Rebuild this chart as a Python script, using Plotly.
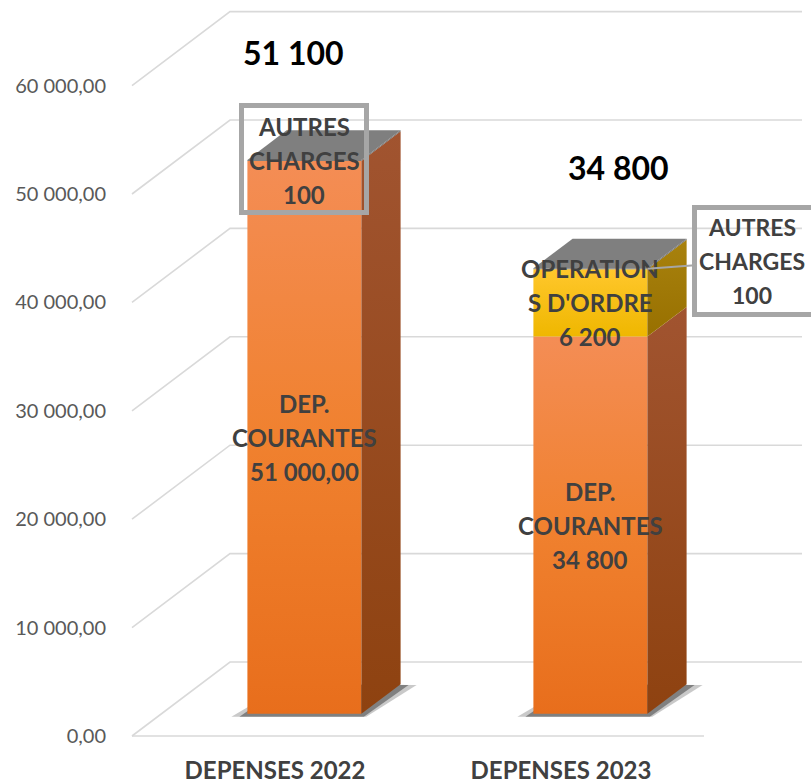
import plotly.graph_objects as go

# ---------------- data ----------------
categories = ["DEPENSES 2022", "DEPENSES 2023"]
dep_courantes = [51000, 34800]
operations_ordre = [0, 6200]
autres_charges = [100, 100]
total_labels = ["51 100", "34 800"]
y_tick_values = [0, 10000, 20000, 30000, 40000, 50000, 60000]
y_tick_labels = ["0,00", "10 000,00", "20 000,00", "30 000,00",
                 "40 000,00", "50 000,00", "60 000,00"]
label_courantes = [["DEP.", "COURANTES", "51 000,00"], ["DEP.", "COURANTES", "34 800"]]
label_ordre = [None, ["OPERATION", "S D'ORDRE", "6 200"]]
label_autres = [["AUTRES", "CHARGES", "100"], ["AUTRES", "CHARGES", "100"]]

# ---------------- geometry / style ----------------
W, H = 811, 784
ML, MB = 128, 44
PX_X = 286.0          # pixels per category unit
PX_Y = 0.01084        # pixels per value unit
FRONT0_X = 275        # pixel x of category 0 on the front plane
FRONT0_Y = 736        # pixel y of value 0 on the front plane
X0 = -(FRONT0_X - ML) / PX_X
X1 = X0 + (W - ML) / PX_X
Y1 = FRONT0_Y / PX_Y
Y0 = -(H - MB - FRONT0_Y) / PX_Y
DX = 98 / PX_X        # full floor depth (x)
DY = 74 / PX_Y        # full floor depth (y)
HW = 57 / PX_X        # half bar width
F0, F1 = 0.3, 0.7     # bar depth span
FLOOR_L, FLOOR_R = -0.5, 1.5

FONT = "Lato"
TXT = "#404040"
GRID = "#D9D9D9"
BOX = "#A6A6A6"

series = [
    dict(vals=dep_courantes, front=["#E86E1C", "#F0812F", "#F48D55"],
         side=["#8E4210", "#A15430"], labels=label_courantes),
    dict(vals=operations_ordre, front=["#EFB700", "#FFC72C"],
         side=["#987000", "#A8820E"], labels=label_ordre),
    dict(vals=autres_charges, front=["#7F7F7F", "#7F7F7F"],
         side=["#6A6A6A", "#6A6A6A"], labels=label_autres),
]
TOP_COLOR = "#7F7F7F"
TOTAL_SHIFTS = [(-11, 78), (28, 71)]
LABEL_SIZE = 24
LABEL_SPACING = 34


def cscale(cols):
    n = len(cols)
    return [[k / (n - 1), c] for k, c in enumerate(cols)]


def poly(xs, ys, cols=None, color=None):
    kw = dict(x=list(xs) + [xs[0]], y=list(ys) + [ys[0]], mode="lines",
              line=dict(width=0), fill="toself", hoverinfo="skip", showlegend=False)
    if cols is not None:
        kw["fillgradient"] = dict(type="vertical", colorscale=cscale(cols))
        kw["fillcolor"] = cols[-1]
    else:
        kw["fillcolor"] = color
    return go.Scatter(**kw)


fig = go.Figure()

# gridlines (diagonal side wall + back wall)
gx, gy = [], []
for v in y_tick_values:
    gx += [FLOOR_L, FLOOR_L + DX, FLOOR_R + DX, None]
    gy += [v, v + DY, v + DY, None]
gx += [FLOOR_L, FLOOR_R, None]
gy += [0, 0, None]
fig.add_trace(go.Scatter(x=gx, y=gy, mode="lines", line=dict(color=GRID, width=1.6),
                         hoverinfo="skip", showlegend=False))

annotations = []


def line_annots(lines, x, y, xshift=0, yshift=0, size=LABEL_SIZE, spacing=LABEL_SPACING):
    n = len(lines)
    for k, t in enumerate(lines):
        annotations.append(dict(
            x=x, y=y, xref="x", yref="y", text=t, showarrow=False,
            xshift=xshift, yshift=yshift + ((n - 1) / 2 - k) * spacing,
            font=dict(family=FONT, size=size, color=TXT, weight="bold")))


for i in range(len(categories)):
    xl = i + F0 * DX - HW
    xr = i + F0 * DX + HW
    ddx = (F1 - F0) * DX
    # shadow
    for grow, op in [(16, 0.25), (8, 0.45)]:
        g = grow / PX_X
        sy = 3 / PX_Y
        fig.add_trace(poly([xl - g, xr + g * 0.3, xr + ddx + g, xl + ddx],
                           [F0 * DY - sy, F0 * DY - sy, F1 * DY - sy * 0.3, F1 * DY],
                           color=f"rgba(40,40,40,{op})"))
    base = 0
    for s in series:
        v = s["vals"][i]
        if v <= 0:
            continue
        top = base + v
        fig.add_trace(poly([xl, xr, xr, xl],
                           [base + F0 * DY, base + F0 * DY, top + F0 * DY, top + F0 * DY],
                           cols=s["front"]))
        fig.add_trace(poly([xr, xr + ddx, xr + ddx, xr],
                           [base + F0 * DY, base + F1 * DY, top + F1 * DY, top + F0 * DY],
                           cols=s["side"]))
        base = top
    total = base
    fig.add_trace(poly([xl, xr, xr + ddx, xl + ddx],
                       [total + F0 * DY, total + F0 * DY, total + F1 * DY, total + F1 * DY],
                       color=TOP_COLOR))
    # total label
    sx, sy = TOTAL_SHIFTS[i]
    annotations.append(dict(x=i + F0 * DX, y=total + F1 * DY, xref="x", yref="y",
                            text=total_labels[i], showarrow=False, xshift=sx, yshift=sy,
                            font=dict(family=FONT, size=32, color="#000000", weight="bold")))

# segment labels
for i in range(len(categories)):
    xc = i + F0 * DX
    xr = i + F0 * DX + HW
    base = 0
    for si, s in enumerate(series):
        v = s["vals"][i]
        if v <= 0:
            continue
        top = base + v
        yc = (base + top) / 2 + F0 * DY
        lines = s["labels"][i]
        if si < 2:
            line_annots(lines, xc, yc)
        elif i == 0:
            annotations.append(dict(x=xc, y=yc, xref="x", yref="y", text=" ",
                                    showarrow=False, width=120, height=102,
                                    borderwidth=5, bordercolor=BOX, borderpad=0,
                                    yshift=1))
            line_annots(lines, xc, yc, spacing=34)
        else:
            ax, ay = 110, -8
            annotations.append(dict(x=xr, y=yc, xref="x", yref="y", text=" ",
                                    showarrow=True, arrowhead=0, arrowwidth=2,
                                    arrowcolor=BOX, ax=ax, ay=ay,
                                    width=120, height=102,
                                    borderwidth=5, bordercolor=BOX, borderpad=0))
            line_annots(lines, xr, yc, xshift=ax - 5, yshift=-ay, size=23, spacing=34)
        base = top

fig.update_layout(
    width=W, height=H,
    margin=dict(l=ML, r=0, t=0, b=MB, autoexpand=False),
    paper_bgcolor="white", plot_bgcolor="white",
    showlegend=False,
    annotations=annotations,
    xaxis=dict(range=[X0, X1], tickvals=[0, 1], ticktext=categories,
               showgrid=False, zeroline=False, showline=False, automargin=False,
               ticks="outside", ticklen=9, tickcolor="rgba(0,0,0,0)",
               tickfont=dict(family=FONT, size=24, color=TXT, weight="bold"),
               fixedrange=True),
    yaxis=dict(range=[Y0, Y1], tickvals=y_tick_values, ticktext=y_tick_labels,
               showgrid=False, zeroline=False, showline=False, automargin=False,
               ticks="outside", ticklen=17, tickcolor="rgba(0,0,0,0)",
               tickfont=dict(family=FONT, size=20, color="#595959"),
               fixedrange=True),
)

fig.write_html("out.html", config={"displayModeBar": False},
               post_script="document.body.style.margin='0';document.body.style.overflow='hidden';")
